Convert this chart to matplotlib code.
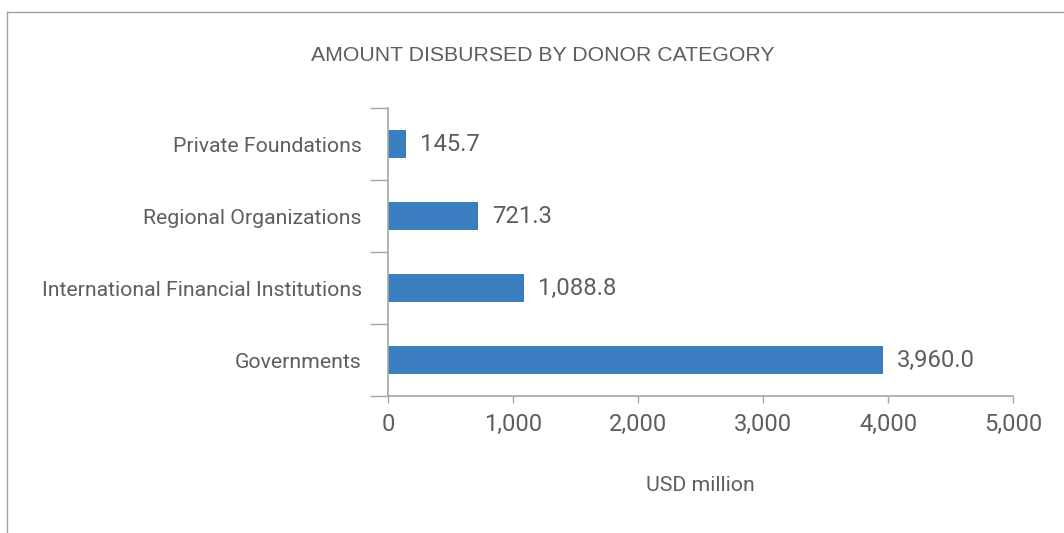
import matplotlib.pyplot as plt
from matplotlib.lines import Line2D
from matplotlib.ticker import FuncFormatter

# DATA
categories = ['Governments', 'International Financial Institutions',
              'Regional Organizations', 'Private Foundations']
amounts = [3960.0, 1088.8, 721.3, 145.7]
x_ticks = [0, 1000, 2000, 3000, 4000, 5000]

TXT = '#5E5E5E'
BAR = '#3A7EBF'
AX = '#A6A6A6'


def main():
    fig = plt.figure(figsize=(10.64, 5.33), dpi=100)
    ax = fig.add_axes([0.3647, 0.257, 0.5874, 0.5403])

    ypos = list(range(len(categories)))
    ax.barh(ypos, amounts, height=0.4, color=BAR)

    for y, v in zip(ypos, amounts):
        ax.annotate(f'{v:,.1f}', (v, y), xytext=(10, 0), textcoords='offset points',
                    va='center', ha='left', fontsize=17.2, color=TXT,
                    family='Roboto')

    ax.set_xlim(0, 5000)
    ax.set_ylim(-0.5, len(categories) - 0.5)
    ax.set_xticks(x_ticks)
    ax.xaxis.set_major_formatter(FuncFormatter(lambda v, p: f'{v:,.0f}'))
    ax.set_yticks(ypos)
    ax.set_yticklabels(categories)
    ax.set_yticks([i - 0.5 for i in range(len(categories) + 1)], minor=True)

    ax.tick_params(axis='y', which='major', length=0, pad=19, labelsize=15.3, labelcolor=TXT)
    ax.tick_params(axis='y', which='minor', length=13, color=AX, width=1)
    ax.tick_params(axis='x', which='major', length=5, color=AX, width=1, labelsize=17,
                   labelcolor=TXT, pad=7)
    for lab in ax.get_xticklabels() + ax.get_yticklabels():
        lab.set_family('Roboto')

    for s in ['top', 'right']:
        ax.spines[s].set_visible(False)
    for s in ['left', 'bottom']:
        ax.spines[s].set_color(AX)
        ax.spines[s].set_linewidth(1.2)

    ax.set_xlabel('USD million', fontsize=15.3, color=TXT, family='Roboto', labelpad=29)

    fig.text(0.51, 0.896, 'AMOUNT DISBURSED BY DONOR CATEGORY', ha='center', va='center',
             fontsize=15.3, color=TXT, family='Liberation Sans')

    # outer frame
    fig.add_artist(Line2D([7 / 1064, 7 / 1064], [0, 1 - 12 / 533], color='#A0A0A0', lw=1))
    fig.add_artist(Line2D([7 / 1064, 1], [1 - 12 / 533, 1 - 12 / 533], color='#A0A0A0', lw=1))

    fig.savefig('out.png', dpi=100, facecolor='white')


if __name__ == "__main__":
    main()
